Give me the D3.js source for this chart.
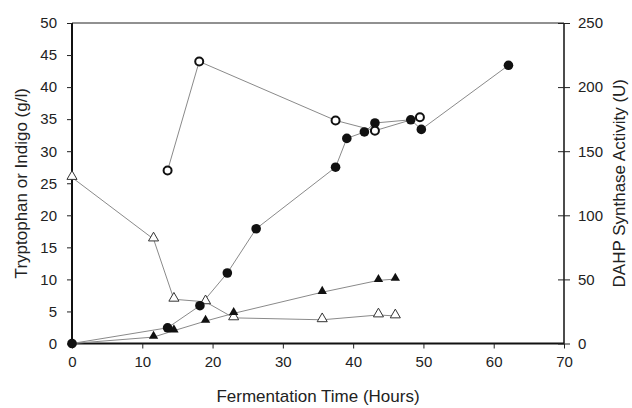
<!DOCTYPE html>
<html>
<head>
<meta charset="utf-8">
<script src="https://cdn.jsdelivr.net/npm/d3@7"></script>
<style>
  body { margin: 0; background: #fff; }
  text { font-family: "Liberation Sans", Arial, sans-serif; fill: #222; }
</style>
</head>
<body>
<svg id="chart" width="632" height="408"></svg>
<script>
// tryptophan (filled circles, left axis)
const trpTime = [0, 13.6, 18.2, 22.1, 26.2, 37.5, 39.1, 41.6, 43.1, 48.2, 49.7, 62.1]
const trpVal  = [0, 2.45, 5.9, 11.0, 17.9, 27.5, 32.0, 33.0, 34.4, 34.9, 33.4, 43.4]

// DAHP synthase activity (open circles, right axis)
const dahpTime = [13.6, 18.1, 37.5, 43.1, 49.5]
const dahpVal  = [135, 220, 174, 166, 176.5]

// open triangles (left axis)
const openTriTime = [0, 11.6, 14.5, 19.0, 23.0, 35.6, 43.6, 46.0]
const openTriVal  = [25.9, 16.3, 6.9, 6.5, 4.0, 3.7, 4.45, 4.3]

// filled triangles, indigo (left axis)
const indTime = [0, 11.6, 14.5, 19.0, 23.0, 35.6, 43.6, 46.0]
const indVal  = [0, 1.0, 2.0, 3.5, 4.7, 8.0, 9.85, 10.05]

const xTicks = [0, 10, 20, 30, 40, 50, 60, 70]
const yLeftTicks = [0, 5, 10, 15, 20, 25, 30, 35, 40, 45, 50]
const yRightTicks = [0, 50, 100, 150, 200, 250]

const dimensions = {
	width: 632,
	height: 408,
	margin: { top: 23, right: 68, bottom: 64.5, left: 72 },
}

const svg = d3.select("#chart")

const xScale = d3.scaleLinear()
	.domain([0, 70])
	.range([dimensions.margin.left, dimensions.width - dimensions.margin.right])

const yLeft = d3.scaleLinear()
	.domain([0, 50])
	.range([dimensions.height - dimensions.margin.bottom, dimensions.margin.top])

const yRight = d3.scaleLinear()
	.domain([0, 250])
	.range([dimensions.height - dimensions.margin.bottom, dimensions.margin.top])

const x0 = xScale(0), x1 = xScale(70), yBottom = yLeft(0), yTop = yLeft(50)

// top border
svg.append("line")
	.attr("x1", x0).attr("x2", x1)
	.attr("y1", yTop).attr("y2", yTop)
	.attr("stroke", "#222").attr("stroke-width", 1)

// axes
const xAxis = d3.axisBottom(xScale).tickValues(xTicks).tickSize(5).tickPadding(8)
const xAxisGroup = svg.append("g")
	.attr("transform", `translate(0,${yBottom})`)
	.call(xAxis)

const yAxis = d3.axisLeft(yLeft).tickValues(yLeftTicks).tickSize(5).tickPadding(10)
const yAxisGroup = svg.append("g")
	.attr("transform", `translate(${x0},0)`)
	.call(yAxis)

const yAxisR = d3.axisRight(yRight).tickValues(yRightTicks).tickSize(6).tickPadding(8)
const yAxisRGroup = svg.append("g")
	.attr("transform", `translate(${x1},0)`)
	.call(yAxisR)
yAxisRGroup.selectAll(".tick line").attr("x1", -6)

svg.selectAll(".tick text").attr("font-size", "15px").attr("fill", "#222")
	.attr("font-family", "Liberation Sans, Arial, sans-serif")
svg.selectAll(".tick line").attr("stroke", "#222")

// plain axis lines, no outer ticks
xAxisGroup.select(".domain").attr("d", `M${x0},0H${x1}`)
	.attr("stroke-width", 2).attr("stroke", "#111")
yAxisGroup.select(".domain").attr("d", `M0,${yBottom}V${yTop}`)
	.attr("stroke-width", 2).attr("stroke", "#111")
yAxisRGroup.select(".domain").attr("d", `M0,${yBottom}V${yTop}`)
	.attr("stroke-width", 1.5).attr("stroke", "#111")

// series lines
function drawLine(xs, ys, yScale) {
	const pts = xs.map((t, i) => [xScale(t), yScale(ys[i])])
	svg.append("path")
		.attr("d", d3.line()(pts))
		.attr("fill", "none")
		.attr("stroke", "#8a8a8a")
		.attr("stroke-width", 1)
}
drawLine(openTriTime, openTriVal, yLeft)
drawLine(indTime, indVal, yLeft)
drawLine(trpTime, trpVal, yLeft)
drawLine(dahpTime, dahpVal, yRight)

// markers
svg.append("g").selectAll("path")
	.data(openTriTime)
	.enter()
	.append("path")
	.attr("d", d3.symbol().type(d3.symbolTriangle).size(44))
	.attr("transform", (d, i) => `translate(${xScale(d)},${yLeft(openTriVal[i]) - 1})`)
	.attr("fill", "#fff")
	.attr("stroke", "#333")
	.attr("stroke-width", 1)

svg.append("g").selectAll("path")
	.data(indTime)
	.enter()
	.append("path")
	.attr("d", d3.symbol().type(d3.symbolTriangle).size(38))
	.attr("transform", (d, i) => `translate(${xScale(d)},${yLeft(indVal[i]) - 1})`)
	.attr("fill", "#111")

svg.append("g").selectAll("circle")
	.data(trpTime)
	.enter()
	.append("circle")
	.attr("cx", d => xScale(d))
	.attr("cy", (d, i) => yLeft(trpVal[i]))
	.attr("r", 4.8)
	.attr("fill", "#111")

svg.append("g").selectAll("circle")
	.data(dahpTime)
	.enter()
	.append("circle")
	.attr("cx", d => xScale(d))
	.attr("cy", (d, i) => yRight(dahpVal[i]))
	.attr("r", 4)
	.attr("fill", "#fff")
	.attr("stroke", "#111")
	.attr("stroke-width", 2)

// axis titles
svg.append("text")
	.text("Fermentation Time (Hours)")
	.attr("x", (x0 + x1) / 2)
	.attr("y", 402)
	.attr("text-anchor", "middle")
	.attr("font-size", "17px")

svg.append("text")
	.text("Tryptophan or Indigo (g/l)")
	.attr("transform", `translate(27,${(yTop + yBottom) / 2}) rotate(-90)`)
	.attr("text-anchor", "middle")
	.attr("font-size", "17px")

svg.append("text")
	.text("DAHP Synthase Activity (U)")
	.attr("transform", `translate(625,${(yTop + yBottom) / 2}) rotate(-90)`)
	.attr("text-anchor", "middle")
	.attr("font-size", "17px")
</script>
</body>
</html>
